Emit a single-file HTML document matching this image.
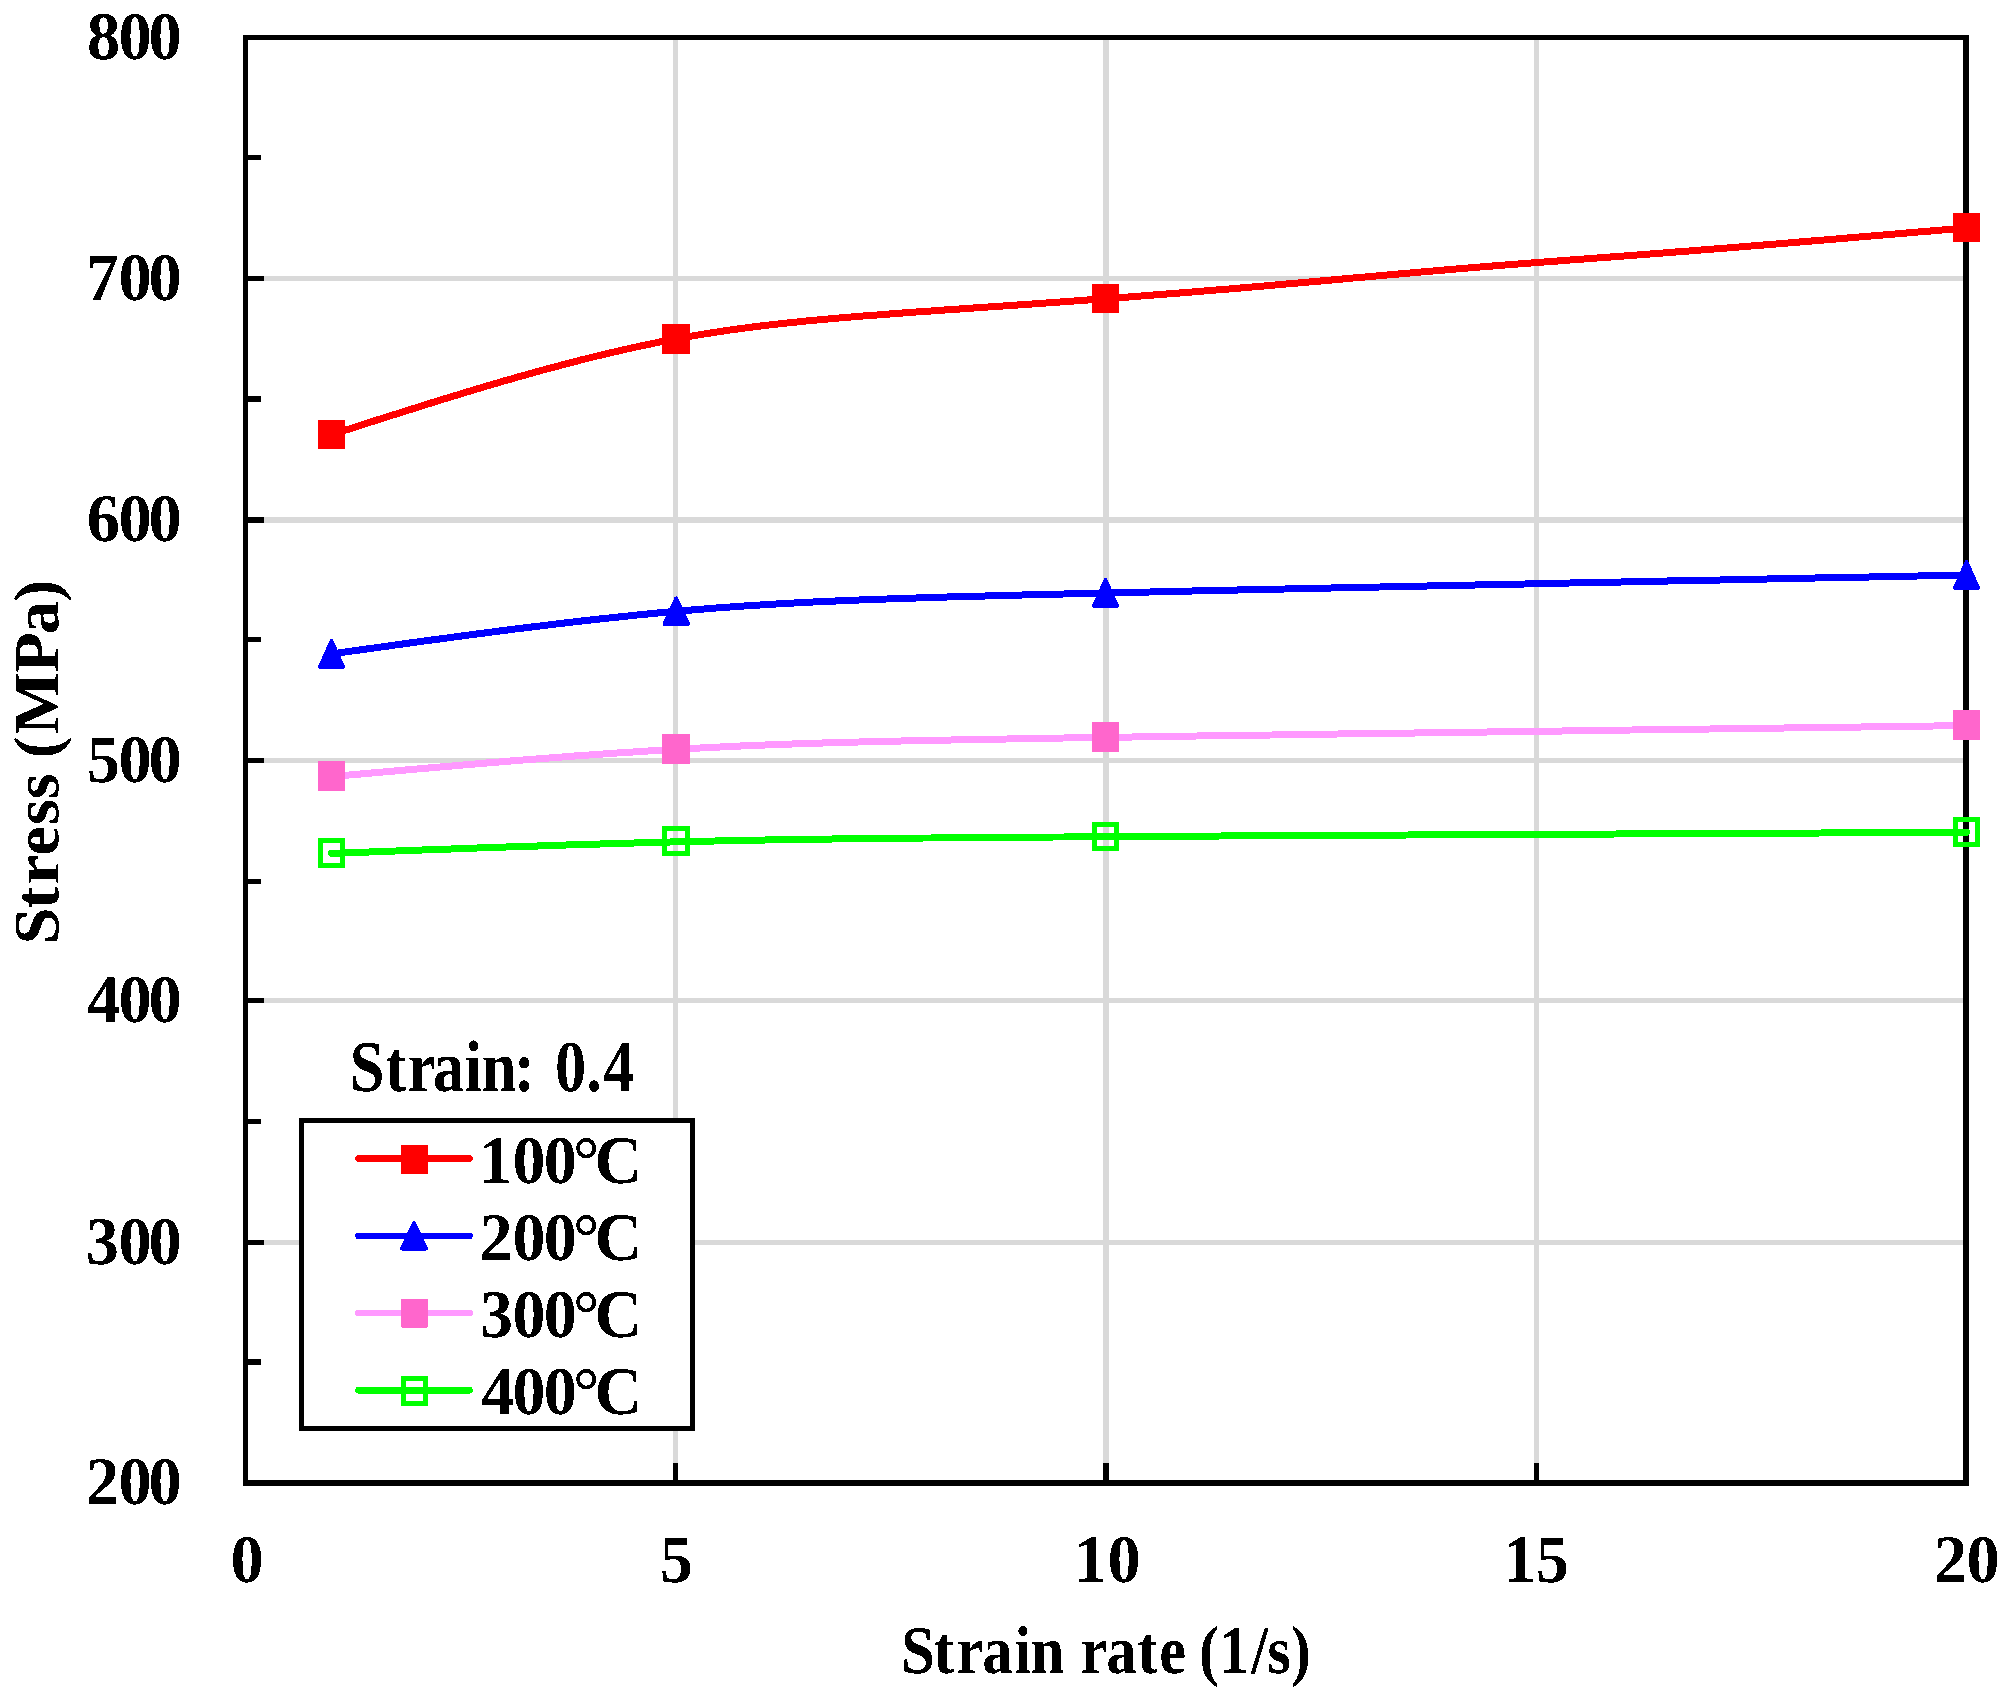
<!DOCTYPE html>
<html lang="en"><head><meta charset="utf-8"><title>Stress (MPa) vs Strain rate (1/s)</title>
<style>html,body{margin:0;padding:0;background:#fff}body{width:2010px;height:1695px;overflow:hidden}</style></head>
<body>
<svg width="2010" height="1695" viewBox="0 0 2010 1695" style="display:block" shape-rendering="crispEdges" text-rendering="geometricPrecision">
<rect width="2010" height="1695" fill="#fff"/>
<rect x="248" y="276" width="1715" height="5" fill="#d9d9d9"/>
<rect x="248" y="517" width="1715" height="6" fill="#d9d9d9"/>
<rect x="248" y="758" width="1715" height="5" fill="#d9d9d9"/>
<rect x="248" y="998" width="1715" height="5" fill="#d9d9d9"/>
<rect x="248" y="1240" width="1715" height="5" fill="#d9d9d9"/>
<rect x="673" y="40" width="5" height="1440" fill="#d9d9d9"/>
<rect x="1103" y="40" width="6" height="1440" fill="#d9d9d9"/>
<rect x="1534" y="40" width="5" height="1440" fill="#d9d9d9"/>
<rect x="243" y="35" width="5" height="1451" fill="#000"/>
<rect x="243" y="35" width="1726" height="5" fill="#000"/>
<rect x="1963" y="35" width="6" height="1451" fill="#000"/>
<rect x="243" y="1480" width="1726" height="6" fill="#000"/>
<rect x="247" y="276" width="17" height="5" fill="#000"/>
<rect x="247" y="517" width="17" height="6" fill="#000"/>
<rect x="247" y="758" width="17" height="5" fill="#000"/>
<rect x="247" y="998" width="17" height="5" fill="#000"/>
<rect x="247" y="1240" width="17" height="5" fill="#000"/>
<rect x="247" y="155" width="14" height="5" fill="#000"/>
<rect x="247" y="396" width="14" height="6" fill="#000"/>
<rect x="247" y="637" width="14" height="5" fill="#000"/>
<rect x="247" y="879" width="14" height="5" fill="#000"/>
<rect x="247" y="1119" width="14" height="5" fill="#000"/>
<rect x="247" y="1359" width="14" height="6" fill="#000"/>
<rect x="673" y="1463" width="5" height="18" fill="#000"/>
<rect x="1103" y="1463" width="6" height="18" fill="#000"/>
<rect x="1534" y="1463" width="5" height="18" fill="#000"/>
<g shape-rendering="crispEdges">
<path d="M331.6,434.6 L337.4,432.7 L343.3,430.8 L349.1,429.0 L355.0,427.1 L360.8,425.2 L366.6,423.4 L372.5,421.5 L378.3,419.6 L384.1,417.8 L390.0,415.9 L395.8,414.1 L401.6,412.2 L407.5,410.4 L413.3,408.6 L419.1,406.7 L424.9,404.9 L430.7,403.1 L436.6,401.3 L442.4,399.5 L448.2,397.7 L454.0,395.9 L459.8,394.2 L465.6,392.4 L471.4,390.7 L477.2,388.9 L482.9,387.2 L488.7,385.5 L494.5,383.8 L500.3,382.1 L506.0,380.4 L511.8,378.8 L517.6,377.1 L523.3,375.5 L529.1,373.9 L534.8,372.3 L540.5,370.7 L546.3,369.1 L552.0,367.6 L557.7,366.1 L563.4,364.6 L569.1,363.1 L574.8,361.6 L580.5,360.1 L586.2,358.7 L591.9,357.3 L597.5,355.9 L603.2,354.5 L608.8,353.2 L614.5,351.9 L620.1,350.6 L625.8,349.3 L631.4,348.0 L637.0,346.8 L642.6,345.6 L648.2,344.4 L653.8,343.3 L659.3,342.1 L664.9,341.0 L670.5,339.9 L676.0,338.9 L681.5,337.9 L687.1,336.9 L692.6,335.9 L698.1,335.0 L703.6,334.1 L709.2,333.2 L714.7,332.3 L720.3,331.5 L725.8,330.6 L731.4,329.8 L737.0,329.1 L742.7,328.3 L748.4,327.5 L754.0,326.8 L759.8,326.1 L765.6,325.4 L771.4,324.7 L777.2,324.1 L783.1,323.4 L789.1,322.8 L795.1,322.2 L801.1,321.5 L807.3,320.9 L813.5,320.3 L819.7,319.8 L826.0,319.2 L832.4,318.6 L838.9,318.0 L845.5,317.5 L852.1,316.9 L858.8,316.4 L865.7,315.8 L872.6,315.3 L879.6,314.8 L886.7,314.2 L893.9,313.7 L901.2,313.1 L908.6,312.6 L916.1,312.0 L923.8,311.5 L931.5,311.0 L939.4,310.4 L947.4,309.8 L955.6,309.3 L963.8,308.7 L972.2,308.1 L980.8,307.5 L989.4,306.9 L998.3,306.3 L1007.2,305.7 L1016.3,305.1 L1025.6,304.4 L1035.0,303.8 L1044.6,303.1 L1054.4,302.4 L1064.3,301.7 L1074.4,301.0 L1084.7,300.2 L1095.1,299.5 L1105.7,298.7 L1116.5,297.9 L1127.5,297.1 L1138.6,296.2 L1149.9,295.3 L1161.4,294.4 L1173.1,293.5 L1184.9,292.6 L1196.9,291.6 L1209.0,290.6 L1221.3,289.6 L1233.8,288.6 L1246.4,287.5 L1259.1,286.4 L1272.0,285.3 L1285.0,284.1 L1298.2,283.0 L1311.5,281.8 L1324.9,280.6 L1338.5,279.4 L1352.2,278.1 L1366.0,276.9 L1379.9,275.7 L1393.9,274.4 L1408.1,273.2 L1422.3,271.9 L1436.7,270.7 L1451.1,269.4 L1465.7,268.2 L1480.4,267.0 L1495.1,265.8 L1510.0,264.6 L1524.9,263.5 L1539.9,262.3 L1555.0,261.2 L1570.2,260.0 L1585.5,258.9 L1600.8,257.7 L1616.2,256.6 L1631.7,255.4 L1647.2,254.2 L1662.8,253.0 L1678.4,251.8 L1694.1,250.6 L1709.9,249.3 L1725.7,248.1 L1741.5,246.8 L1757.4,245.5 L1773.4,244.2 L1789.3,242.9 L1805.3,241.5 L1821.4,240.2 L1837.4,238.9 L1853.5,237.5 L1869.6,236.1 L1885.7,234.8 L1901.9,233.4 L1918.0,232.0 L1934.2,230.7 L1950.3,229.3 L1966.5,227.9" fill="none" stroke="#ff0000" stroke-width="7" stroke-linecap="round" stroke-linejoin="round"/>
<rect x="318" y="420" width="27" height="29" rx="1" fill="#ff0000"/>
<rect x="662" y="324" width="28" height="30" rx="1" fill="#ff0000"/>
<rect x="1092" y="284" width="27" height="29" rx="1" fill="#ff0000"/>
<rect x="1953" y="213" width="27" height="29" rx="1" fill="#ff0000"/>
<path d="M331.6,653.9 L337.4,653.1 L343.3,652.3 L349.1,651.4 L355.0,650.6 L360.8,649.8 L366.7,649.0 L372.5,648.2 L378.4,647.4 L384.2,646.6 L390.0,645.8 L395.9,644.9 L401.7,644.1 L407.5,643.3 L413.4,642.5 L419.2,641.7 L425.0,640.9 L430.8,640.1 L436.7,639.4 L442.5,638.6 L448.3,637.8 L454.1,637.0 L459.9,636.2 L465.7,635.5 L471.5,634.7 L477.3,633.9 L483.1,633.2 L488.9,632.4 L494.7,631.7 L500.4,630.9 L506.2,630.2 L512.0,629.4 L517.7,628.7 L523.5,628.0 L529.3,627.3 L535.0,626.6 L540.7,625.9 L546.5,625.2 L552.2,624.5 L557.9,623.8 L563.6,623.1 L569.3,622.4 L575.0,621.8 L580.7,621.1 L586.4,620.5 L592.1,619.8 L597.7,619.2 L603.4,618.6 L609.1,618.0 L614.7,617.4 L620.3,616.8 L626.0,616.2 L631.6,615.6 L637.2,615.0 L642.8,614.5 L648.4,613.9 L654.0,613.4 L659.5,612.8 L665.1,612.3 L670.7,611.8 L676.2,611.3 L681.7,610.8 L687.3,610.3 L692.8,609.9 L698.3,609.4 L703.8,609.0 L709.4,608.5 L714.9,608.1 L720.4,607.7 L726.0,607.3 L731.6,606.9 L737.2,606.5 L742.8,606.1 L748.5,605.7 L754.2,605.3 L759.9,605.0 L765.7,604.6 L771.5,604.3 L777.3,603.9 L783.2,603.6 L789.2,603.3 L795.2,602.9 L801.2,602.6 L807.3,602.3 L813.5,602.0 L819.8,601.7 L826.1,601.4 L832.5,601.1 L838.9,600.9 L845.5,600.6 L852.1,600.3 L858.8,600.0 L865.7,599.8 L872.5,599.5 L879.5,599.2 L886.6,599.0 L893.8,598.7 L901.1,598.5 L908.5,598.2 L916.1,598.0 L923.7,597.8 L931.5,597.5 L939.3,597.3 L947.3,597.0 L955.5,596.8 L963.7,596.6 L972.1,596.3 L980.6,596.1 L989.3,595.9 L998.1,595.6 L1007.1,595.4 L1016.2,595.2 L1025.5,594.9 L1034.9,594.7 L1044.5,594.5 L1054.2,594.2 L1064.1,594.0 L1074.2,593.7 L1084.5,593.5 L1094.9,593.2 L1105.5,593.0 L1116.3,592.8 L1127.3,592.5 L1138.4,592.2 L1149.7,592.0 L1161.2,591.7 L1172.9,591.5 L1184.7,591.2 L1196.7,590.9 L1208.8,590.7 L1221.1,590.4 L1233.6,590.1 L1246.2,589.8 L1258.9,589.6 L1271.8,589.3 L1284.8,589.0 L1298.0,588.7 L1311.3,588.4 L1324.7,588.1 L1338.3,587.9 L1351.9,587.6 L1365.7,587.3 L1379.7,587.0 L1393.7,586.7 L1407.8,586.4 L1422.1,586.1 L1436.5,585.8 L1450.9,585.5 L1465.5,585.2 L1480.1,584.9 L1494.9,584.6 L1509.8,584.3 L1524.7,584.0 L1539.7,583.7 L1554.8,583.3 L1570.0,583.0 L1585.3,582.7 L1600.6,582.4 L1616.0,582.1 L1631.5,581.8 L1647.0,581.5 L1662.6,581.1 L1678.3,580.8 L1694.0,580.5 L1709.7,580.2 L1725.5,579.9 L1741.4,579.5 L1757.3,579.2 L1773.2,578.9 L1789.2,578.6 L1805.2,578.2 L1821.2,577.9 L1837.3,577.6 L1853.4,577.3 L1869.5,577.0 L1885.6,576.6 L1901.7,576.3 L1917.9,576.0 L1934.1,575.7 L1950.2,575.3 L1966.4,575.0" fill="none" stroke="#0000ff" stroke-width="7" stroke-linecap="round" stroke-linejoin="round"/>
<polygon points="331.5,641.0 320.0,667.0 343.0,667.0" fill="#0000ff" stroke="#0000ff" stroke-width="4.0" stroke-linejoin="round"/>
<polygon points="676.2,598.5 664.5,624.0 688.0,624.0" fill="#0000ff" stroke="#0000ff" stroke-width="4.0" stroke-linejoin="round"/>
<polygon points="1105.5,580.0 1094.0,606.0 1117.0,606.0" fill="#0000ff" stroke="#0000ff" stroke-width="4.0" stroke-linejoin="round"/>
<polygon points="1966.5,562.0 1955.0,588.0 1978.0,588.0" fill="#0000ff" stroke="#0000ff" stroke-width="4.0" stroke-linejoin="round"/>
<path d="M331.6,776.6 L337.4,776.1 L343.3,775.6 L349.1,775.0 L355.0,774.5 L360.8,774.0 L366.6,773.5 L372.5,772.9 L378.3,772.4 L384.2,771.9 L390.0,771.4 L395.8,770.9 L401.6,770.4 L407.5,769.8 L413.3,769.3 L419.1,768.8 L424.9,768.3 L430.8,767.8 L436.6,767.3 L442.4,766.8 L448.2,766.3 L454.0,765.8 L459.8,765.3 L465.6,764.8 L471.4,764.3 L477.2,763.8 L483.0,763.3 L488.8,762.8 L494.5,762.4 L500.3,761.9 L506.1,761.4 L511.8,760.9 L517.6,760.5 L523.3,760.0 L529.1,759.6 L534.8,759.1 L540.6,758.6 L546.3,758.2 L552.0,757.8 L557.7,757.3 L563.4,756.9 L569.2,756.5 L574.8,756.0 L580.5,755.6 L586.2,755.2 L591.9,754.8 L597.6,754.4 L603.2,754.0 L608.9,753.6 L614.5,753.2 L620.1,752.8 L625.8,752.4 L631.4,752.1 L637.0,751.7 L642.6,751.3 L648.2,751.0 L653.8,750.6 L659.3,750.3 L664.9,750.0 L670.5,749.6 L676.0,749.3 L681.5,749.0 L687.1,748.7 L692.6,748.4 L698.1,748.1 L703.6,747.8 L709.2,747.5 L714.7,747.2 L720.3,747.0 L725.8,746.7 L731.4,746.4 L737.0,746.2 L742.6,745.9 L748.3,745.7 L754.0,745.4 L759.7,745.2 L765.5,745.0 L771.3,744.8 L777.2,744.5 L783.1,744.3 L789.0,744.1 L795.0,743.9 L801.1,743.7 L807.2,743.5 L813.4,743.3 L819.6,743.1 L826.0,742.9 L832.3,742.7 L838.8,742.5 L845.4,742.4 L852.0,742.2 L858.7,742.0 L865.5,741.8 L872.4,741.7 L879.4,741.5 L886.5,741.3 L893.7,741.2 L901.0,741.0 L908.5,740.8 L916.0,740.7 L923.6,740.5 L931.4,740.4 L939.3,740.2 L947.3,740.1 L955.4,739.9 L963.7,739.7 L972.1,739.6 L980.6,739.4 L989.3,739.3 L998.1,739.1 L1007.0,739.0 L1016.2,738.8 L1025.4,738.7 L1034.9,738.5 L1044.4,738.4 L1054.2,738.2 L1064.1,738.0 L1074.2,737.9 L1084.5,737.7 L1094.9,737.6 L1105.5,737.4 L1116.3,737.2 L1127.3,737.1 L1138.4,736.9 L1149.7,736.7 L1161.2,736.6 L1172.9,736.4 L1184.7,736.2 L1196.7,736.0 L1208.8,735.9 L1221.1,735.7 L1233.6,735.5 L1246.2,735.3 L1258.9,735.1 L1271.8,735.0 L1284.9,734.8 L1298.0,734.6 L1311.3,734.4 L1324.7,734.2 L1338.3,734.0 L1352.0,733.8 L1365.8,733.6 L1379.7,733.5 L1393.7,733.3 L1407.9,733.1 L1422.2,732.9 L1436.5,732.7 L1451.0,732.5 L1465.6,732.3 L1480.2,732.1 L1495.0,731.9 L1509.8,731.7 L1524.8,731.5 L1539.8,731.3 L1554.9,731.1 L1570.1,730.9 L1585.3,730.7 L1600.7,730.5 L1616.1,730.2 L1631.6,730.0 L1647.1,729.8 L1662.7,729.6 L1678.3,729.4 L1694.0,729.2 L1709.8,729.0 L1725.6,728.8 L1741.5,728.6 L1757.4,728.4 L1773.3,728.2 L1789.3,727.9 L1805.3,727.7 L1821.3,727.5 L1837.4,727.3 L1853.5,727.1 L1869.6,726.9 L1885.7,726.7 L1901.8,726.5 L1918.0,726.2 L1934.2,726.0 L1950.3,725.8 L1966.5,725.6" fill="none" stroke="#ff99ff" stroke-width="7" stroke-linecap="round" stroke-linejoin="round"/>
<rect x="318" y="761" width="27" height="30" rx="1" fill="#ff66cc"/>
<rect x="662" y="734" width="28" height="30" rx="1" fill="#ff66cc"/>
<rect x="1092" y="722" width="27" height="30" rx="1" fill="#ff66cc"/>
<rect x="1953" y="710" width="27" height="30" rx="1" fill="#ff66cc"/>
<path d="M331.5,853.4 L337.3,853.2 L343.2,853.0 L349.0,852.7 L354.9,852.5 L360.7,852.3 L366.6,852.1 L372.4,851.9 L378.2,851.7 L384.1,851.4 L389.9,851.2 L395.7,851.0 L401.6,850.8 L407.4,850.6 L413.2,850.4 L419.1,850.1 L424.9,849.9 L430.7,849.7 L436.5,849.5 L442.3,849.3 L448.1,849.1 L453.9,848.9 L459.8,848.7 L465.6,848.5 L471.3,848.3 L477.1,848.0 L482.9,847.8 L488.7,847.6 L494.5,847.4 L500.3,847.2 L506.0,847.0 L511.8,846.8 L517.6,846.6 L523.3,846.5 L529.1,846.3 L534.8,846.1 L540.5,845.9 L546.3,845.7 L552.0,845.5 L557.7,845.3 L563.4,845.1 L569.1,844.9 L574.8,844.8 L580.5,844.6 L586.2,844.4 L591.9,844.2 L597.5,844.1 L603.2,843.9 L608.9,843.7 L614.5,843.6 L620.1,843.4 L625.8,843.2 L631.4,843.1 L637.0,842.9 L642.6,842.8 L648.2,842.6 L653.8,842.5 L659.3,842.3 L664.9,842.2 L670.5,842.0 L676.0,841.9 L681.5,841.8 L687.1,841.6 L692.6,841.5 L698.1,841.4 L703.6,841.2 L709.2,841.1 L714.7,841.0 L720.3,840.9 L725.8,840.8 L731.4,840.7 L737.0,840.5 L742.7,840.4 L748.3,840.3 L754.0,840.2 L759.7,840.1 L765.5,840.0 L771.3,839.9 L777.2,839.8 L783.1,839.7 L789.0,839.6 L795.0,839.5 L801.1,839.4 L807.2,839.4 L813.4,839.3 L819.6,839.2 L826.0,839.1 L832.4,839.0 L838.8,838.9 L845.4,838.8 L852.0,838.8 L858.7,838.7 L865.5,838.6 L872.4,838.5 L879.4,838.5 L886.5,838.4 L893.7,838.3 L901.0,838.2 L908.5,838.2 L916.0,838.1 L923.6,838.0 L931.4,838.0 L939.3,837.9 L947.3,837.8 L955.4,837.8 L963.7,837.7 L972.1,837.6 L980.6,837.6 L989.3,837.5 L998.1,837.4 L1007.0,837.4 L1016.2,837.3 L1025.4,837.2 L1034.9,837.2 L1044.4,837.1 L1054.2,837.0 L1064.1,837.0 L1074.2,836.9 L1084.5,836.8 L1094.9,836.8 L1105.5,836.7 L1116.3,836.6 L1127.3,836.6 L1138.4,836.5 L1149.7,836.4 L1161.2,836.4 L1172.9,836.3 L1184.7,836.2 L1196.7,836.2 L1208.8,836.1 L1221.1,836.0 L1233.6,835.9 L1246.2,835.9 L1258.9,835.8 L1271.8,835.7 L1284.9,835.7 L1298.0,835.6 L1311.3,835.5 L1324.7,835.5 L1338.3,835.4 L1352.0,835.3 L1365.8,835.2 L1379.7,835.2 L1393.7,835.1 L1407.9,835.0 L1422.1,834.9 L1436.5,834.9 L1451.0,834.8 L1465.5,834.7 L1480.2,834.7 L1495.0,834.6 L1509.8,834.5 L1524.8,834.4 L1539.8,834.4 L1554.9,834.3 L1570.1,834.2 L1585.3,834.1 L1600.7,834.1 L1616.1,834.0 L1631.6,833.9 L1647.1,833.8 L1662.7,833.8 L1678.3,833.7 L1694.0,833.6 L1709.8,833.5 L1725.6,833.4 L1741.5,833.4 L1757.4,833.3 L1773.3,833.2 L1789.3,833.1 L1805.3,833.1 L1821.3,833.0 L1837.4,832.9 L1853.5,832.8 L1869.6,832.8 L1885.7,832.7 L1901.8,832.6 L1918.0,832.5 L1934.2,832.5 L1950.3,832.4 L1966.5,832.3" fill="none" stroke="#00ff00" stroke-width="7" stroke-linecap="round" stroke-linejoin="round"/>
<path d="M318,838h27v30h-27z M323,843v20h17v-20z" fill="#00ff00"/>
<path d="M662,826h28v30h-28z M667,831v20h18v-20z" fill="#00ff00"/>
<path d="M1092,822h27v29h-27z M1097,827v19h17v-19z" fill="#00ff00"/>
<path d="M1953,817h27v30h-27z M1958,822v20h17v-20z" fill="#00ff00"/>
</g>
<rect x="301.5" y="1120.5" width="391" height="308" fill="#fff" stroke="#000" stroke-width="5"/>
<g shape-rendering="crispEdges">
<line x1="358.5" y1="1158.6" x2="469.5" y2="1158.6" stroke="#ff0000" stroke-width="6.6" stroke-linecap="round"/>
<rect x="401" y="1145" width="27" height="29" rx="1" fill="#ff0000"/>
<line x1="358.5" y1="1235.8" x2="469.5" y2="1235.8" stroke="#0000ff" stroke-width="6.6" stroke-linecap="round"/>
<polygon points="414.0,1223.0 402.0,1248.5 426.0,1248.5" fill="#0000ff" stroke="#0000ff" stroke-width="4.0" stroke-linejoin="round"/>
<line x1="358.5" y1="1313.0" x2="469.5" y2="1313.0" stroke="#ff99ff" stroke-width="6.6" stroke-linecap="round"/>
<rect x="401" y="1298.5" width="27" height="29.0" rx="1" fill="#ff66cc"/>
<line x1="358.5" y1="1390.2" x2="469.5" y2="1390.2" stroke="#00ff00" stroke-width="6.6" stroke-linecap="round"/>
<path d="M401,1376h27v29.5h-27z M406,1381v19.5h17v-19.5z" fill="#00ff00"/>
</g>
<defs><filter id="bw" filterUnits="userSpaceOnUse" x="0" y="0" width="2010" height="1695" color-interpolation-filters="sRGB"><feComponentTransfer><feFuncA type="discrete" tableValues="0 1"/></feComponentTransfer></filter></defs>
<g filter="url(#bw)" fill="#000">
<text font-family="'Liberation Serif','Times New Roman',serif" font-weight="bold" font-size="68" transform="scale(0.975,1.0)" x="89.15 121.46 152.23" y="59.10">800</text>
<text font-family="'Liberation Serif','Times New Roman',serif" font-weight="bold" font-size="68" transform="scale(0.975,1.0)" x="87.99 121.46 152.23" y="300.30">700</text>
<text font-family="'Liberation Serif','Times New Roman',serif" font-weight="bold" font-size="68" transform="scale(0.975,1.0)" x="88.89 121.46 152.23" y="541.20">600</text>
<text font-family="'Liberation Serif','Times New Roman',serif" font-weight="bold" font-size="68" transform="scale(0.975,1.0)" x="88.94 121.46 152.23" y="782.00">500</text>
<text font-family="'Liberation Serif','Times New Roman',serif" font-weight="bold" font-size="68" transform="scale(0.975,1.0)" x="89.32 121.46 152.23" y="1022.10">400</text>
<text font-family="'Liberation Serif','Times New Roman',serif" font-weight="bold" font-size="68" transform="scale(0.975,1.0)" x="87.86 121.46 152.23" y="1263.50">300</text>
<text font-family="'Liberation Serif','Times New Roman',serif" font-weight="bold" font-size="68" transform="scale(0.975,1.0)" x="88.21 121.46 152.23" y="1504.30">200</text>
<text font-family="'Liberation Serif','Times New Roman',serif" font-weight="bold" font-size="68" transform="scale(0.975,1.0)" x="236.33" y="1582.30">0</text>
<text font-family="'Liberation Serif','Times New Roman',serif" font-weight="bold" font-size="68" transform="scale(0.975,1.0)" x="676.73" y="1582.30">5</text>
<text font-family="'Liberation Serif','Times New Roman',serif" font-weight="bold" font-size="68" transform="scale(0.975,1.0)" x="1101.32 1135.87" y="1582.30">10</text>
<text font-family="'Liberation Serif','Times New Roman',serif" font-weight="bold" font-size="68" transform="scale(0.975,1.0)" x="1541.93 1575.24" y="1582.30">15</text>
<text font-family="'Liberation Serif','Times New Roman',serif" font-weight="bold" font-size="68" transform="scale(0.975,1.0)" x="1983.49 2016.90" y="1582.30">20</text>
<text font-family="'Liberation Serif','Times New Roman',serif" font-weight="bold" font-size="68" transform="scale(0.8896,1.0)" x="1012.99 1049.54 1075.16 1104.27 1140.26 1158.75 1196.57 1214.55 1243.60 1278.63 1303.20 1333.38 1347.88 1370.19 1406.51 1424.52 1450.86" y="1672.80">Strain rate (1/s)</text>
<text font-family="'Liberation Serif','Times New Roman',serif" font-weight="bold" font-size="68" transform="translate(58.3,0) rotate(-90) scale(0.9755,0.95)" x="-968.27 -931.61 -906.82 -877.19 -845.77 -819.33 -792.86 -777.64 -752.86 -689.63 -650.13 -616.77" y="0">Stress (MPa)</text>
<text font-family="'Liberation Serif','Times New Roman',serif" font-weight="bold" font-size="73" transform="scale(0.8543,1.0)" x="409.43 451.36 477.17 506.88 543.91 563.90 601.54 625.85 649.67 686.18 705.74" y="1091.00">Strain: 0.4</text>
<text font-family="'Liberation Serif','Times New Roman',serif" font-weight="bold" font-size="68" transform="scale(0.97,1.0)" x="493.94 528.41 560.53 590.61 612.87" y="1183.30">100°C</text>
<text font-family="'Liberation Serif','Times New Roman',serif" font-weight="bold" font-size="68" transform="scale(0.97,1.0)" x="494.42 528.41 560.53 590.61 612.87" y="1260.30">200°C</text>
<text font-family="'Liberation Serif','Times New Roman',serif" font-weight="bold" font-size="68" transform="scale(0.97,1.0)" x="494.79 528.41 560.53 590.61 612.87" y="1337.20">300°C</text>
<text font-family="'Liberation Serif','Times New Roman',serif" font-weight="bold" font-size="68" transform="scale(0.97,1.0)" x="496.10 528.41 560.53 590.61 612.87" y="1414.10">400°C</text>
</g>
</svg>
</body></html>
